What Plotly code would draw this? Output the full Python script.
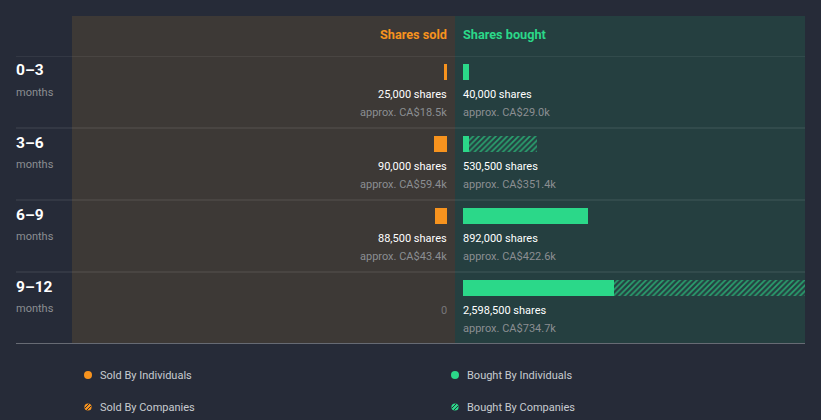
import plotly.graph_objects as go

# ---------------- data ----------------
periods = ["0–3", "3–6", "6–9", "9–12"]
period_unit = "months"
sold_individuals = [25000, 90000, 88500, 0]
sold_companies = [0, 0, 0, 0]
bought_individuals = [40000, 40000, 892000, 1078500]
bought_companies = [0, 490500, 0, 1520000]
sold_value_k = [18.5, 59.4, 43.4, 0]
bought_value_k = [29.0, 351.4, 422.6, 734.7]
currency = "CA$"
legend_labels = ["Sold By Individuals", "Sold By Companies",
                 "Bought By Individuals", "Bought By Companies"]

# ---------------- styling ----------------
W, H = 821, 420
BG = "#262b38"
SOLD_BG = "#3d3936"
BOUGHT_BG = "#253f40"
ORANGE = "#f7931e"
GREEN = "#2bd889"
WHITE = "#ffffff"
GRAY = "#8b8e92"
LEG_TXT = "#c8cbd0"
FONT = "Roboto"

PX_PER_SHARE = 125 / 892000.0


def fx(x):
    return x / W


def fy(y):
    return 1 - y / H


sold_tot = [a + b for a, b in zip(sold_individuals, sold_companies)]
bought_tot = [a + b for a, b in zip(bought_individuals, bought_companies)]

# bar geometry in category units (row = 72px)
BW = 16 / 72
BO = -28 / 72

fig = go.Figure()

pat_common = dict(shape="/", size=4, solidity=0.42, bgcolor="rgba(0,0,0,0)", fillmode="replace")

fig.add_trace(go.Bar(orientation="h", y=periods, x=sold_individuals, xaxis="x", yaxis="y",
                     marker=dict(color=ORANGE, line=dict(width=0)), width=BW, offset=BO,
                     showlegend=False, hoverinfo="skip"))
fig.add_trace(go.Bar(orientation="h", y=periods, x=sold_companies, base=sold_individuals,
                     xaxis="x", yaxis="y",
                     marker=dict(color="rgba(0,0,0,0)", line=dict(width=0),
                                 pattern=dict(fgcolor=ORANGE, fgopacity=0.65, **pat_common)),
                     width=BW, offset=BO, showlegend=False, hoverinfo="skip"))
fig.add_trace(go.Bar(orientation="h", y=periods, x=bought_individuals, xaxis="x2", yaxis="y",
                     marker=dict(color=GREEN, line=dict(width=0)), width=BW, offset=BO,
                     showlegend=False, hoverinfo="skip"))
fig.add_trace(go.Bar(orientation="h", y=periods, x=bought_companies, base=bought_individuals,
                     xaxis="x2", yaxis="y",
                     marker=dict(color="rgba(0,0,0,0)", line=dict(width=0),
                                 pattern=dict(fgcolor=GREEN, fgopacity=0.65, **pat_common)),
                     width=BW, offset=BO, showlegend=False, hoverinfo="skip"))

shapes = []
# panel backgrounds
shapes.append(dict(type="rect", xref="paper", yref="paper", x0=fx(72), x1=fx(455),
                   y0=fy(343), y1=fy(16), fillcolor=SOLD_BG, line=dict(width=0), layer="below"))
shapes.append(dict(type="rect", xref="paper", yref="paper", x0=fx(455), x1=fx(805),
                   y0=fy(343), y1=fy(16), fillcolor=BOUGHT_BG, line=dict(width=0), layer="below"))
# row separators
for i in range(len(periods)):
    shapes.append(dict(type="line", xref="paper", yref="y", x0=fx(16), x1=fx(805),
                       y0=i - 0.5, y1=i - 0.5, line=dict(color="rgba(255,255,255,0.13)", width=1),
                       layer="below"))
shapes.append(dict(type="line", xref="paper", yref="y", x0=fx(16), x1=fx(805),
                   y0=len(periods) - 0.5, y1=len(periods) - 0.5,
                   line=dict(color="#a9acb1", width=1), layer="above"))

annotations = []


def ann(text, x, y, xref="paper", yref="paper", xanchor="left", size=11, color=WHITE,
        yshift=0, bold=False):
    annotations.append(dict(text=f"<b>{text}</b>" if bold else text, x=x, y=y, xref=xref,
                            yref=yref, xanchor=xanchor, yanchor="middle", showarrow=False,
                            yshift=yshift, borderpad=0, borderwidth=0,
                            font=dict(family=FONT, size=size, color=color)))


# headers
ann("Shares sold", fx(447), fy(34.5), xanchor="right", size=12.7, color=ORANGE, bold=True)
ann("Shares bought", fx(463), fy(34.5), xanchor="left", size=12.7, color=GREEN, bold=True)

for i, p in enumerate(periods):
    ann(p, fx(16), p, yref="y", size=15.5, color=WHITE, yshift=21.5, bold=True)
    ann(period_unit, fx(16), p, yref="y", size=11, color=GRAY, yshift=-0.5)
    # sold
    if sold_tot[i] > 0:
        ann(f"{sold_tot[i]:,} shares", 0, p, xref="x", yref="y", xanchor="right",
            color=WHITE, yshift=-2.5)
        ann(f"approx. {currency}{sold_value_k[i]:.1f}k", 0, p, xref="x", yref="y",
            xanchor="right", color=GRAY, yshift=-20.5)
    else:
        ann("0", 0, p, xref="x", yref="y", xanchor="right", color="#77767a", yshift=-2.5)
    # bought
    if bought_tot[i] > 0:
        ann(f"{bought_tot[i]:,} shares", 0, p, xref="x2", yref="y", xanchor="left",
            color=WHITE, yshift=-2.5)
        ann(f"approx. {currency}{bought_value_k[i]:.1f}k", 0, p, xref="x2", yref="y",
            xanchor="left", color=GRAY, yshift=-20.5)
    else:
        ann("0", 0, p, xref="x2", yref="y", xanchor="left", color="#77767a", yshift=-2.5)

# custom legend
leg_pos = [(88, 375, ORANGE, False), (88, 407, ORANGE, True),
           (455, 375, GREEN, False), (455, 407, GREEN, True)]
for (cx, cy, col, hatched), label in zip(leg_pos, legend_labels):
    r = 4 if not hatched else 3.6
    shapes.append(dict(type="circle", xref="paper", yref="paper",
                       x0=fx(cx - r), x1=fx(cx + r), y0=fy(cy + r), y1=fy(cy - r),
                       fillcolor=col, line=dict(width=0), layer="above"))
    if hatched:
        for d in (-1.4, 1.4):
            ox, oy = d * 0.7071, d * 0.7071
            half = 3.0
            hx = half * 0.7071
            shapes.append(dict(type="line", xref="paper", yref="paper",
                               x0=fx(cx + ox - hx), y0=fy(cy + oy + hx),
                               x1=fx(cx + ox + hx), y1=fy(cy + oy - hx),
                               line=dict(color=BG, width=1), layer="above"))
    ann(label, fx(cx + 12), fy(cy), xanchor="left", size=11, color=LEG_TXT)

fig.update_layout(
    width=W, height=H,
    margin=dict(l=0, r=0, t=0, b=0),
    paper_bgcolor=BG, plot_bgcolor="rgba(0,0,0,0)",
    barmode="overlay", bargap=0,
    showlegend=False, hovermode=False,
    xaxis=dict(domain=[fx(72), fx(447)], range=[375 / PX_PER_SHARE, 0], visible=False,
               fixedrange=True, anchor="y"),
    xaxis2=dict(domain=[fx(463), fx(805)], range=[0, 342 / PX_PER_SHARE], visible=False,
                fixedrange=True, anchor="y"),
    yaxis=dict(domain=[fy(344), fy(56)], type="category", categoryarray=periods,
               categoryorder="array", range=[len(periods) - 0.5, -0.5], visible=False,
               fixedrange=True),
    shapes=shapes, annotations=annotations,
    font=dict(family=FONT),
)

fig.write_html("out.html", config={"displayModeBar": False})
